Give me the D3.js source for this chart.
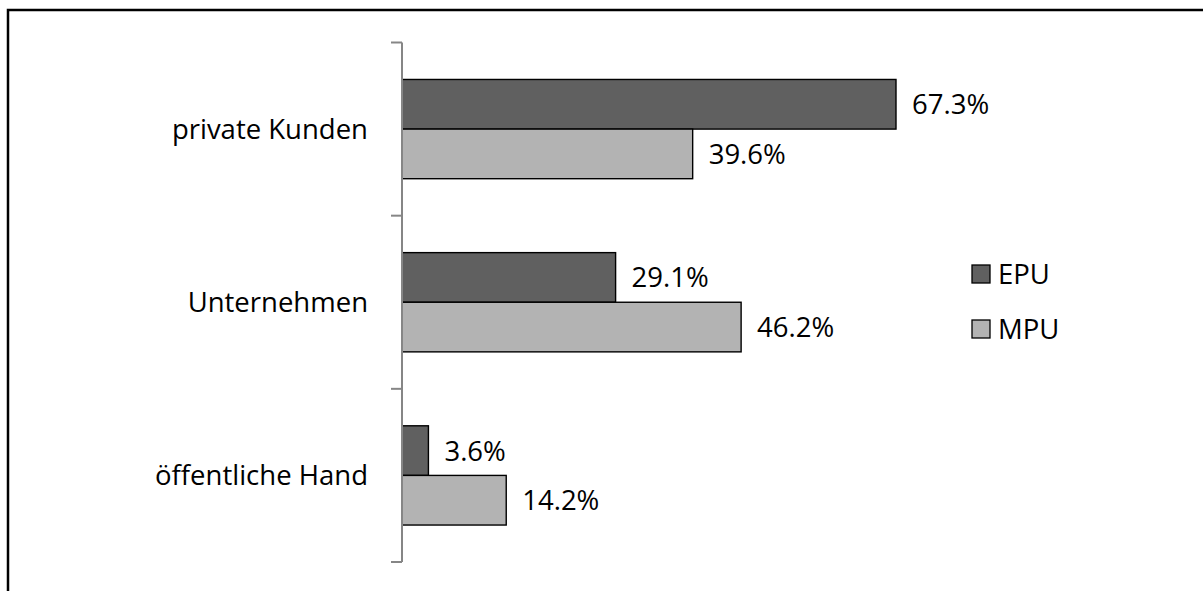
<!DOCTYPE html>
<html><head><meta charset="utf-8">
<script src="https://cdn.jsdelivr.net/npm/d3@7"></script>
<style>html,body{margin:0;padding:0;background:#fff;overflow:hidden}</style>
</head><body>
<svg id="c" width="1203" height="591"></svg>
<script>
const categories = ["private Kunden", "Unternehmen", "öffentliche Hand"];
const seriesNames = ["EPU", "MPU"];
const epuValues = [67.3, 29.1, 3.6];
const mpuValues = [39.6, 46.2, 14.2];
const valueLabels = { EPU: ["67.3%", "29.1%", "3.6%"], MPU: ["39.6%", "46.2%", "14.2%"] };
const colors = { EPU: "#606060", MPU: "#b3b3b3" };

const FONT = "'Open Sans', sans-serif";
const FS = 27.5;
const svg = d3.select("#c");

// outer border
svg.append("rect").attr("x", 8).attr("y", 10).attr("width", 1210).attr("height", 610)
  .attr("fill", "none").attr("stroke", "#000").attr("stroke-width", 2.5);

const x = d3.scaleLinear().domain([0, 67.3]).range([402, 896]);
const y = d3.scaleBand().domain(categories).range([42.5, 562]).padding(0);
const yInner = d3.scaleBand().domain(seriesNames).range([0, y.bandwidth()]).paddingInner(0).paddingOuter(0.745);

const data = categories.map((c, i) => ({ cat: c, EPU: epuValues[i], MPU: mpuValues[i], i }));

// bars
const g = svg.append("g");
data.forEach(d => {
  seriesNames.forEach(s => {
    const y0 = y(d.cat) + yInner(s);
    g.append("rect")
      .attr("x", x(0)).attr("y", y0)
      .attr("width", x(d[s]) - x(0)).attr("height", yInner.bandwidth())
      .attr("fill", colors[s]).attr("stroke", "#000").attr("stroke-width", 1.4);
    g.append("text")
      .attr("x", x(d[s]) + 16).attr("y", y0 + yInner.bandwidth() / 2)
      .attr("dy", "0.36em")
      .attr("font-family", FONT).attr("font-size", FS).attr("fill", "#000")
      .text(valueLabels[s][d.i]);
  });
});

// axis
svg.append("line").attr("x1", x(0)).attr("x2", x(0)).attr("y1", y.range()[0]).attr("y2", y.range()[1])
  .attr("stroke", "#868686").attr("stroke-width", 2);
const tickYs = categories.map(c => y(c)).concat([y.range()[1]]);
svg.selectAll(".tk").data(tickYs).join("line")
  .attr("x1", x(0) - 11).attr("x2", x(0)).attr("y1", d => d).attr("y2", d => d)
  .attr("stroke", "#868686").attr("stroke-width", 2);

// category labels
svg.selectAll(".cl").data(categories).join("text")
  .attr("x", 368).attr("y", c => y(c) + y.bandwidth() / 2)
  .attr("dy", "0.36em").attr("text-anchor", "end")
  .attr("font-family", FONT).attr("font-size", FS).attr("fill", "#000")
  .text(c => c);

// legend
const lg = svg.append("g");
seriesNames.forEach((s, i) => {
  const ly = 265 + i * 55;
  lg.append("rect").attr("x", 972).attr("y", ly).attr("width", 18).attr("height", 18)
    .attr("fill", colors[s]).attr("stroke", "#000").attr("stroke-width", 1.3);
  lg.append("text").attr("x", 998).attr("y", ly + 9).attr("dy", "0.36em")
    .attr("font-family", FONT).attr("font-size", FS).attr("fill", "#000").text(s);
});
</script>
</body></html>
